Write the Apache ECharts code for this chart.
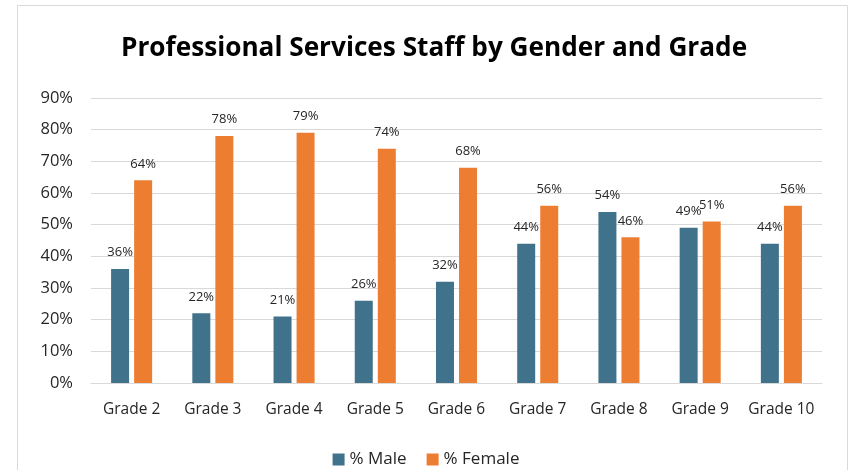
<!DOCTYPE html>
<html><head><meta charset="utf-8">
<script src="https://cdn.jsdelivr.net/npm/echarts@6/dist/echarts.min.js"></script>
<style>html,body{margin:0;padding:0;background:#fff}#c{width:852px;height:470px}</style>
</head><body><div id="c"></div>
<script>
const categories = ['Grade 2','Grade 3','Grade 4','Grade 5','Grade 6','Grade 7','Grade 8','Grade 9','Grade 10'];
const male = [36, 22, 21, 26, 32, 44, 54, 49, 44];
const female = [64, 78, 79, 74, 68, 56, 46, 51, 56];
const titleText = 'Professional Services Staff by Gender and Grade';
const chart = echarts.init(document.getElementById('c'), null, {renderer:'canvas'});
const lbl = {show:true, position:'top', distance:10, formatter: p => p.value + '%', color:'#262626', fontSize:13, fontFamily:'Open Sans'};
chart.setOption({
  animation:false,
  graphic:[{type:'rect', shape:{x:17.5,y:5.5,width:830,height:480}, style:{fill:'none', stroke:'#d9d9d9', lineWidth:1}}],
  title:{text:titleText, left:116, top:31, textStyle:{fontSize:26.2, fontWeight:'bold', color:'#000', fontFamily:'Open Sans'}},
  legend:{bottom:-3, left:'center', itemWidth:12, itemHeight:12, itemGap:20, icon:'rect', textStyle:{fontSize:17, color:'#262626', fontFamily:'Open Sans'}, data:['% Male','% Female']},
  grid:{left:91, right:30, top:98, bottom:87},
  xAxis:{type:'category', data:categories, axisTick:{show:false}, axisLine:{lineStyle:{color:'#d9d9d9'}}, axisLabel:{interval:0, fontSize:15.5, color:'#262626', margin:19, fontFamily:'Open Sans'}},
  yAxis:{type:'value', min:0, max:90, interval:10, axisLabel:{formatter:'{value}%', fontSize:16.5, color:'#262626', margin:18, fontFamily:'Open Sans'}, splitLine:{lineStyle:{color:'#d9d9d9', width:1}}},
  series:[
    {name:'% Male', type:'bar', data:male, barWidth:18, barGap:'28%', itemStyle:{color:'#41728b'}, label:lbl},
    {name:'% Female', type:'bar', data:female, barWidth:18, itemStyle:{color:'#ed7d31'}, label:lbl}
  ]
});
</script></body></html>
